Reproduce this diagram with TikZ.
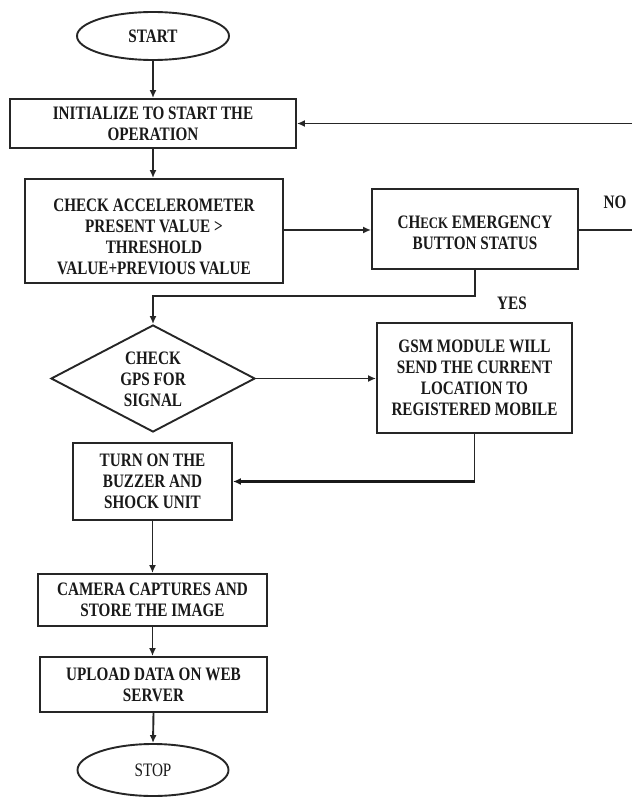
\documentclass[tikz,border=0pt]{standalone}
\usepackage{fontspec}
\setmainfont{Liberation Serif}[FakeStretch=0.8]
\usetikzlibrary{shapes.geometric,arrows.meta}
\begin{document}
\begin{tikzpicture}[x=1pt,y=-1pt,
  every node/.style={font=\fontsize{19}{21}\selectfont\bfseries, align=center, inner sep=0pt, text=black!90},
  box/.style={draw=black!85, line width=1.9pt, rectangle},
  oval/.style={draw=black!85, line width=1.9pt, ellipse},
  dec/.style={draw=black!85, line width=1.9pt, diamond},
  ln/.style={draw=black!85, line width=1.9pt},
  thk/.style={draw=black!90, line width=3pt},
  arr/.style={-{Latex[length=8pt,width=7pt]}}]
\useasboundingbox (0,0) rectangle (632,797);

\node[oval, minimum width=152pt, minimum height=48pt] (start) at (153,36) {START};
\node[box, minimum width=286pt, minimum height=49pt] (init) at (153,123.5) {INITIALIZE TO START THE\\OPERATION};
\node[box, minimum width=258pt, minimum height=104pt] (acc) at (154,231) {};
\node (acct) at (154,237) {CHECK ACCELEROMETER\\PRESENT VALUE >\\THRESHOLD\\VALUE+PREVIOUS VALUE};
\node[box, minimum width=206pt, minimum height=80pt] (emer) at (475,229) {};
\node (emert) at (475,232.5) {CH{\fontsize{16}{21}\selectfont ECK} EMERGENCY\\BUTTON STATUS};
\node[dec, minimum width=204pt, minimum height=107pt] (gps) at (153,378.5) {};
\node (gpst) at (153,379) {CHECK\\GPS FOR\\SIGNAL};
\node[box, minimum width=195pt, minimum height=110pt] (gsm) at (474.5,378) {GSM MODULE WILL\\SEND THE CURRENT\\LOCATION TO\\REGISTERED MOBILE};
\node[box, minimum width=159pt, minimum height=77pt] (turn) at (152.5,481.5) {TURN ON THE\\BUZZER AND\\SHOCK UNIT};
\node[box, minimum width=229pt, minimum height=52pt] (cam) at (152.5,600) {CAMERA CAPTURES AND\\STORE THE IMAGE};
\node[box, minimum width=227pt, minimum height=55pt] (upl) at (153.5,684.5) {UPLOAD DATA ON WEB\\SERVER};
\node[oval, minimum width=151pt, minimum height=52pt, font=\fontsize{19}{21}\selectfont\mdseries] (stop) at (153,770) {STOP};

\node (no) at (615,202) {NO};
\node (yes) at (512,303) {YES};

\coordinate (noend) at (632,230);
\coordinate (fbk) at (632,123.5);
\coordinate (ybend) at (153,296);

\draw[ln,arr] (start) -- (init);
\draw[ln,arr] (init.south) -- (init.south |- acc.north);
\draw[ln,arr] (acc.east |- noend) -- (emer.west |- noend);
\draw[ln] (emer.east |- noend) -- (noend);
\draw[ln,arr] (fbk) -- (init.east);
\draw[ln,arr] (emer.south) |- (ybend) -- (gps.north);
\draw[ln,arr] (gps.east) -- (gsm.west |- gps.east);
\draw[ln] (gsm.south) -- (gsm.south |- turn.east);
\draw[thk,arr] (gsm.south |- turn.east) -- (turn.east);
\draw[ln,arr] (turn.south) -- (turn.south |- cam.north);
\draw[ln,arr] (cam.south) -- (cam.south |- upl.north);
\draw[ln,arr] (upl.south) -- (stop.north);
\end{tikzpicture}
\end{document}
